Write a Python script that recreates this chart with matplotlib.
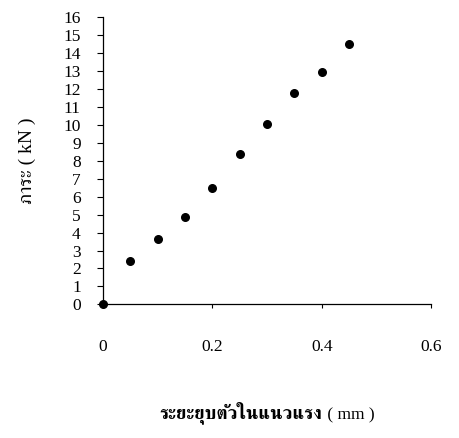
import matplotlib
matplotlib.use("Agg")
import matplotlib.pyplot as plt
from matplotlib import font_manager
from matplotlib.ft2font import FT2Font

x_disp = [0, 0.05, 0.10, 0.15, 0.20, 0.25, 0.30, 0.35, 0.40, 0.45]
load_kn = [0, 2.42, 3.66, 4.87, 6.5, 8.38, 10.05, 11.78, 12.94, 14.5]
x_ticks = [0, 0.2, 0.4, 0.6]
x_tick_labels = ["0", "0.2", "0.4", "0.6"]
y_ticks = list(range(0, 17))
x_label_thai = "ระยะยุบตัวในแนวแรง"
x_label_unit = " ( mm )"
y_label = "ภาระ ( kN )"

# find fonts that have Thai glyphs
thai_fams = []
for f in font_manager.fontManager.ttflist:
    try:
        cm = FT2Font(f.fname).get_charmap()
        if ord("ภ") in cm and f.name not in thai_fams:
            thai_fams.append(f.name)
    except Exception:
        pass
pref = [n for n in ["FreeSerif", "Norasi", "Laksaman", "TlwgTypo", "Loma"] if n in thai_fams]
thai_fam = pref + [n for n in thai_fams if n not in pref]

serif = "Liberation Serif"
fam = [serif] + thai_fam[:3] + ["DejaVu Sans"]

fig = plt.figure(figsize=(4.6, 4.38), dpi=100)
ax = fig.add_axes([0.224, 0.305, 0.713, 0.656])
ax.scatter(x_disp, load_kn, s=30, color="black", zorder=3, clip_on=False)
ax.set_xlim(0, 0.6)
ax.set_ylim(0, 16)
ax.set_xticks(x_ticks)
ax.set_xticklabels(x_tick_labels)
ax.set_yticks(y_ticks)
for s in ["top", "right"]:
    ax.spines[s].set_visible(False)
for s in ["left", "bottom"]:
    ax.spines[s].set_linewidth(0.9)
ax.tick_params(axis="x", direction="out", length=3, pad=22, width=0.8)
ax.tick_params(axis="y", direction="out", length=4, pad=12, width=0.8)
for lab in ax.get_xticklabels() + ax.get_yticklabels():
    lab.set_family(serif)
    lab.set_fontsize(12.5)
ax.set_ylabel(y_label, family=fam, fontsize=14, labelpad=20)

# x label: bold Thai part followed by regular unit, centred under the axes
t = ax.text(0.0, -0.376, x_label_thai, transform=ax.transAxes,
            family=thai_fam[:3] + ["DejaVu Sans"], fontsize=13.5,
            weight="bold", ha="left", va="center")
u = ax.annotate(x_label_unit, xy=(1, 0), xycoords=t, va="bottom", ha="left",
                family=fam, fontsize=12.5)
fig.canvas.draw()
r = fig.canvas.get_renderer()
b1 = t.get_window_extent(r)
b2 = u.get_window_extent(r)
total = b2.x1 - b1.x0
ax_bb = ax.get_window_extent(r)
centre = (ax_bb.x0 + ax_bb.x1) / 2
x0 = centre - total / 2
t.set_x((x0 - ax_bb.x0) / ax_bb.width)
fig.savefig("out.png", dpi=100)
